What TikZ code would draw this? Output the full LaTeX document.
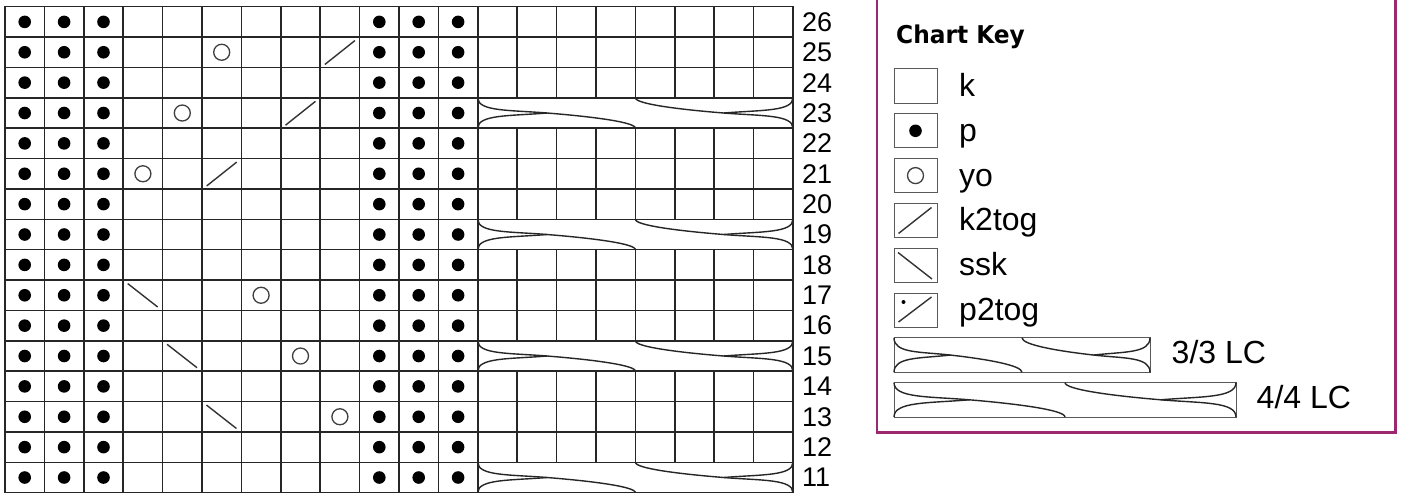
\documentclass[tikz,border=0pt]{standalone}
\usepackage{fontspec}
\setmainfont{Liberation Sans}
\newfontfamily\keyfont{DejaVu Sans}
\definecolor{keyframe}{RGB}{158,40,112}
\tikzset{
  gridline/.style={line width=1.5pt, draw=black!85},
  purldot/.style={fill=black},
  yosym/.style={draw=black!75, line width=1.3pt},
  decsym/.style={draw=black!80, line width=1.4pt},
  cableline/.style={draw=black!85, line width=1.4pt},
  keybox/.style={draw=black!65, line width=1pt},
  rownum/.style={anchor=west, inner sep=0pt, font=\fontsize{27}{30}\selectfont},
  keylabel/.style={anchor=base west, inner sep=0pt, font=\fontsize{32}{36}\selectfont},
}
\newcommand\cablecross[4]{%
  \pgfmathsetmacro\cWd{#2-#1}%
  \pgfmathsetmacro\cHd{#4-#3}%
  \pgfmathsetmacro\cxm{(#1+#2)/2}%
  \pgfmathsetmacro\cym{(#3+#4)/2}%
  \draw[cableline] (#1,#3) .. controls (#1,{\cym-0.05*\cHd}) and ({#1+0.1*\cWd},{\cym-0.1*\cHd}) .. ({#1+0.22*\cWd},\cym)
     .. controls ({#1+0.364*\cWd},{\cym+0.12*\cHd}) and (\cxm,{#4-0.2*\cHd}) .. (\cxm,#4);
  \draw[cableline] (#1,#4) .. controls (#1,{\cym+0.05*\cHd}) and ({#1+0.1*\cWd},{\cym+0.1*\cHd}) .. ({#1+0.22*\cWd},\cym);
  \draw[cableline] (#2,#4) .. controls (#2,{\cym+0.05*\cHd}) and ({#2-0.1*\cWd},{\cym+0.1*\cHd}) .. ({#2-0.22*\cWd},\cym)
     .. controls ({#2-0.364*\cWd},{\cym-0.12*\cHd}) and (\cxm,{#3+0.2*\cHd}) .. (\cxm,#3);
  \draw[cableline] (#2,#3) .. controls (#2,{\cym-0.05*\cHd}) and ({#2-0.1*\cWd},{\cym-0.1*\cHd}) .. ({#2-0.22*\cWd},\cym);
}
\begin{document}
\begin{tikzpicture}[x=1pt,y=-1pt]
\useasboundingbox (0,0) rectangle (1403,495);
\fill[white] (0,0) rectangle (1403,495);
\def\cw{39.4}\def\ch{30.375}\def\xo{5}\def\yo{6.7}

% purl columns
\foreach \k in {0,1,2,9,10,11}
  \foreach \i in {0,...,15}
    \fill[purldot] ({\xo+(\k+0.5)*\cw},{\yo+(\i+0.5)*\ch}) circle[radius=6.3];

% yarn overs
\foreach \k/\r in {5/25,4/23,3/21,6/17,7/15,8/13}
  \draw[yosym] ({\xo+(\k+0.5)*\cw},{\yo+(26-\r+0.5)*\ch}) circle[radius=8];

% k2tog
\foreach \k/\r in {8/25,7/23,5/21}
  \draw[decsym] ({\xo+\k*\cw+4.7},{\yo+(27-\r)*\ch-3}) -- ({\xo+(\k+1)*\cw-4.7},{\yo+(26-\r)*\ch+3.5});

% ssk
\foreach \k/\r in {3/17,4/15,5/13}
  \draw[decsym] ({\xo+\k*\cw+4.5},{\yo+(26-\r)*\ch+3.5}) -- ({\xo+(\k+1)*\cw-5},{\yo+(27-\r)*\ch-3.5});

% grid
\foreach \i in {1,...,15}
  \draw[gridline] (\xo,{\yo+\i*\ch}) -- ({\xo+20*\cw},{\yo+\i*\ch});
\foreach \k in {1,...,12}
  \draw[gridline] ({\xo+\k*\cw},\yo) -- ({\xo+\k*\cw},{\yo+16*\ch});
\foreach \k in {13,...,19}
  \foreach \i in {0,1,2,4,5,6,8,9,10,12,13,14}
    \draw[gridline] ({\xo+\k*\cw},{\yo+\i*\ch}) -- ({\xo+\k*\cw},{\yo+(\i+1)*\ch});
\draw[gridline] (\xo,\yo) rectangle ({\xo+20*\cw},{\yo+16*\ch});

% cables
\foreach \i in {3,7,11,15} {
  \pgfmathsetmacro\yt{\yo+\i*\ch}
  \pgfmathsetmacro\yb{\yo+(\i+1)*\ch}
  \cablecross{477.8}{793}{\yt}{\yb}
}

% row numbers
\foreach \r in {11,...,26}
  \node[rownum] (n\r) at (802,{\yo+(26-\r+0.5)*\ch}) {\r};

% key frame
\draw[keyframe, line width=2.5pt] (877,-3) -- (877,432.7) -- (1395.7,432.7) -- (1395.7,-3);
\node[anchor=base west, inner sep=0pt] (keytitle) at (896,44)
  {\scalebox{0.95}[1]{\keyfont\bfseries\fontsize{24.5}{28}\selectfont Chart Key}};

\foreach \i/\lab in {0/k,1/p,2/yo,3/k2tog,4/ssk,5/p2tog} {
  \draw[keybox] (894,{69+44.8*\i}) rectangle (937,{103+44.8*\i});
  \node[keylabel] (key\i) at (959,{69+44.8*\i+17+10.5}) {\lab};
}
% key symbols
\fill[purldot] (915.5,{113.8+17}) circle[radius=6.3];
\draw[yosym] (915.5,{158.6+17}) circle[radius=8];
\draw[decsym] (898.5,233.5) -- (931.5,207.5);
\draw[decsym] (898,252.5) -- (932,279);
\draw[decsym] (898.5,322) -- (931.5,297);
\fill[purldot] (903.5,302) circle[radius=2];

\draw[keybox] (894,337.8) rectangle (1150,372.3);
\cablecross{894}{1150}{337.8}{372.3}
\node[keylabel] (key33) at (1171.5,363.3) {3/3 LC};

\draw[keybox] (894,382.6) rectangle (1236,417);
\cablecross{894}{1236}{382.6}{417}
\node[keylabel] (key44) at (1256.5,408.3) {4/4 LC};
\end{tikzpicture}
\end{document}
